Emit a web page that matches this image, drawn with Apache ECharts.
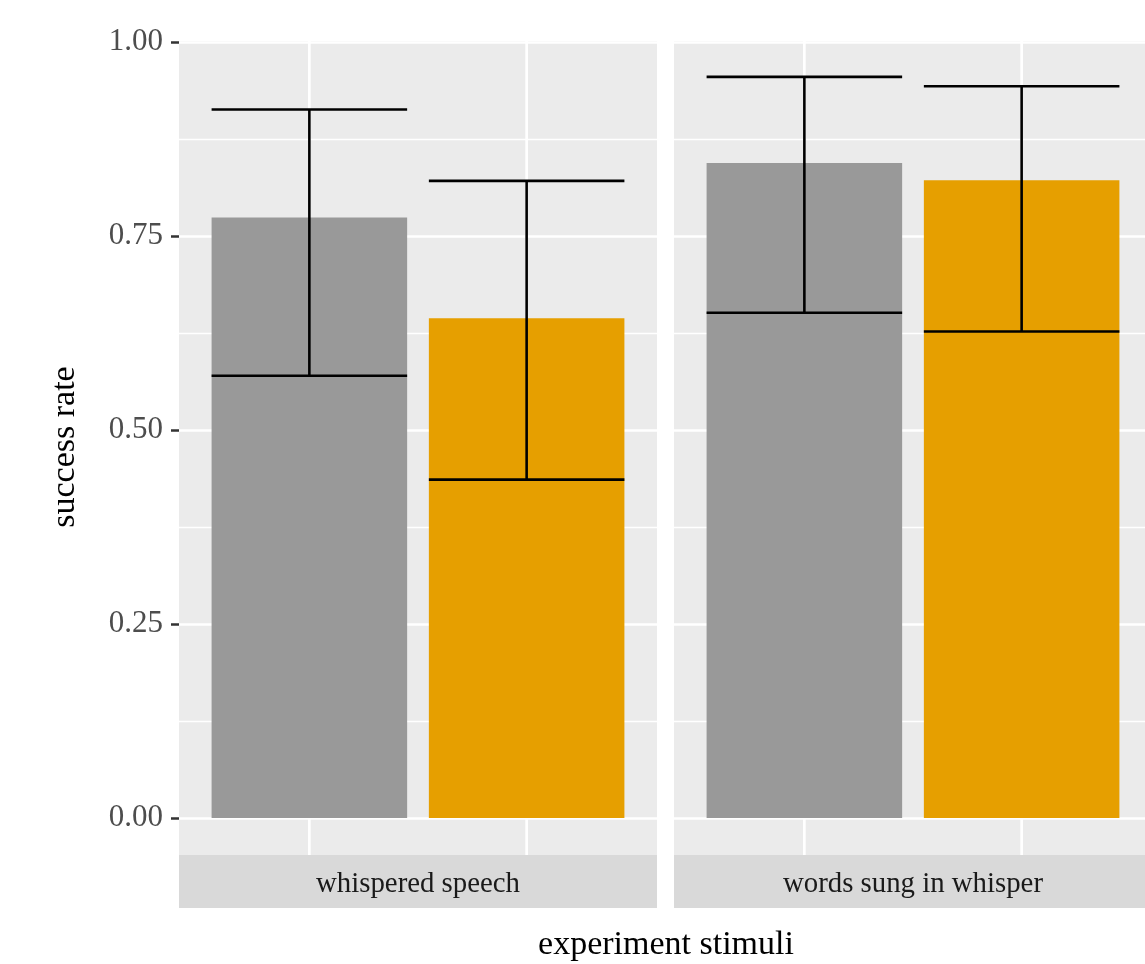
<!DOCTYPE html>
<html>
<head>
<meta charset="utf-8">
<script src="https://cdn.jsdelivr.net/npm/echarts@6/dist/echarts.min.js"></script>
<style>
html,body{margin:0;padding:0;background:#fff;overflow:hidden;}
#chart{width:1152px;height:964px;}
</style>
</head>
<body>
<div id="chart"></div>
<script>
// ---- data ----
const panelNames = ['whispered speech', 'words sung in whisper'];
const groupPositions = [1, 2];
const whisperedRate = [0.774, 0.644];
const whisperedLow = [0.570, 0.436];
const whisperedHigh = [0.913, 0.821];
const sungRate = [0.844, 0.822];
const sungLow = [0.651, 0.627];
const sungHigh = [0.955, 0.943];
const yTicks = [0, 0.25, 0.5, 0.75, 1];
const xTitle = 'experiment stimuli';
const yTitle = 'success rate';

// ---- styling / layout ----
const barColors = ['#999999', '#E69F00'];
const FONT = '"Liberation Serif", "Times New Roman", serif';
const panelLefts = [179, 674];
const panelWidth = 478;
const panelTop = 41, panelBottom = 855;
const dataTop = 42, dataBottom = 818;
const stripH = 53;
const unitPx = panelWidth / 2.2;
const barPx = 0.9 * unitPx;

const rates = [whisperedRate, sungRate];
const lows = [whisperedLow, sungLow];
const highs = [whisperedHigh, sungHigh];

const grids = [], xAxes = [], yAxes = [], series = [];

// background grids (panel backgrounds incl. expansion), index 0,1
panelLefts.forEach((left, i) => {
  grids.push({left: left, width: panelWidth, top: panelTop, height: panelBottom - panelTop,
    show: true, backgroundColor: '#EBEBEB', borderWidth: 0, z: 0});
  xAxes.push({type: 'value', gridIndex: i, min: 0.4, max: 2.6, show: false});
  yAxes.push({type: 'value', gridIndex: i, min: 0, max: 1, show: false});
});
// data grids, index 2,3
panelLefts.forEach((left, i) => {
  grids.push({left: left, width: panelWidth, top: dataTop, height: dataBottom - dataTop,
    show: false, borderWidth: 0});
  xAxes.push({type: 'value', gridIndex: 2 + i, min: 0.4, max: 2.6, show: false, splitLine: {show: false}});
  yAxes.push({
    type: 'value', gridIndex: 2 + i, min: yTicks[0], max: yTicks[yTicks.length - 1], interval: 0.25,
    axisLine: {show: false},
    axisTick: {show: i === 0, length: 8, lineStyle: {color: '#333333', width: 2.5}},
    axisLabel: {show: i === 0, color: '#4D4D4D', fontSize: 31, fontFamily: FONT, margin: 16,
      formatter: v => v.toFixed(2)},
    splitLine: {show: true, lineStyle: {color: '#FFFFFF', width: 2.7}},
    minorTick: {show: false, splitNumber: 2},
    minorSplitLine: {show: true, lineStyle: {color: '#FFFFFF', width: 1.35}}
  });
});

panelLefts.forEach((left, i) => {
  // vertical grid lines at the category positions (full panel height)
  series.push({
    type: 'custom', xAxisIndex: i, yAxisIndex: i, silent: true, z: 1,
    data: groupPositions.map(p => [p]),
    renderItem: (params, api) => {
      const x = api.coord([api.value(0), 0])[0];
      const cs = params.coordSys;
      return {type: 'line', shape: {x1: x, y1: cs.y, x2: x, y2: cs.y + cs.height},
        style: {stroke: '#FFFFFF', lineWidth: 2.7}};
    }
  });
  // bars
  series.push({
    type: 'bar', xAxisIndex: 2 + i, yAxisIndex: 2 + i, barWidth: barPx, z: 2, silent: true,
    data: groupPositions.map((p, k) => ({value: [p, rates[i][k]], itemStyle: {color: barColors[k]}}))
  });
  // error bars
  series.push({
    type: 'custom', xAxisIndex: 2 + i, yAxisIndex: 2 + i, z: 3, silent: true,
    data: groupPositions.map((p, k) => [p, lows[i][k], highs[i][k]]),
    renderItem: (params, api) => {
      const lo = api.coord([api.value(0), api.value(1)]);
      const hi = api.coord([api.value(0), api.value(2)]);
      const hw = api.size([0.9, 0])[0] / 2;
      const st = {stroke: '#000000', lineWidth: 2.6};
      return {type: 'group', children: [
        {type: 'line', shape: {x1: lo[0], y1: lo[1], x2: hi[0], y2: hi[1]}, style: st},
        {type: 'line', shape: {x1: hi[0] - hw, y1: hi[1], x2: hi[0] + hw, y2: hi[1]}, style: st},
        {type: 'line', shape: {x1: lo[0] - hw, y1: lo[1], x2: lo[0] + hw, y2: lo[1]}, style: st}
      ]};
    }
  });
});

const graphics = [];
panelLefts.forEach((left, i) => {
  graphics.push({type: 'rect', x: left, y: panelBottom, shape: {width: panelWidth, height: stripH},
    style: {fill: '#D9D9D9'}, silent: true, z: 0});
  graphics.push({type: 'text', x: left + panelWidth / 2, y: panelBottom + stripH / 2 + 3,
    style: {text: panelNames[i], fill: '#1A1A1A', font: '28.8px ' + FONT, textAlign: 'center', textVerticalAlign: 'middle'}, z: 5});
});
graphics.push({type: 'text', x: 666, y: 945,
  style: {text: xTitle, fill: '#000000', font: '34px ' + FONT, textAlign: 'center', textVerticalAlign: 'middle'}});
graphics.push({type: 'text', x: 65, y: 447, rotation: Math.PI / 2,
  style: {text: yTitle, fill: '#000000', font: '34px ' + FONT, textAlign: 'center', textVerticalAlign: 'middle'}});

const chart = echarts.init(document.getElementById('chart'), null, {renderer: 'canvas'});
chart.setOption({
  animation: false,
  backgroundColor: '#FFFFFF',
  grid: grids, xAxis: xAxes, yAxis: yAxes, series: series, graphic: graphics
});
</script>
</body>
</html>
